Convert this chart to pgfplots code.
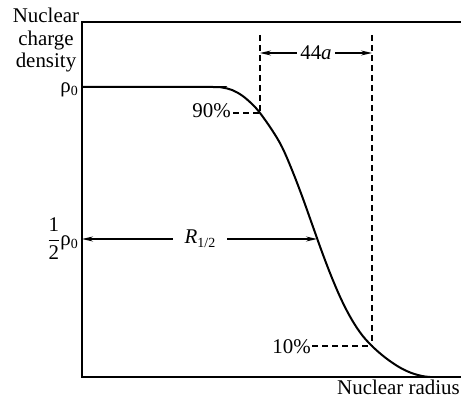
\documentclass[border=0pt]{standalone}
\usepackage{fontspec}
\setmainfont{Liberation Serif}
\usepackage{amsmath}
\usepackage{pgfplots}
\pgfplotsset{compat=1.18}
\usetikzlibrary{arrows.meta}
\begin{document}
\begin{tikzpicture}[font=\fontsize{21}{22}\selectfont, >={Stealth[length=11bp,width=5bp]}]
\begin{axis}[scale only axis, width=379bp, height=355bp,
  xmin=0, xmax=379, ymin=0, ymax=355, hide axis, clip=false]
\addplot[black, line width=2bp, smooth, tension=0.6] coordinates {
 (0,290) (130,290) (140,289.5) (150,287) (160,281.5) (170,273) (178,264)
 (190,247) (200,230) (210,207) (220,181) (230,153) (240,125) (250,99) (260,76)
 (270,57) (280,42) (290,31) (300,22) (310,14.5) (320,8.3) (330,3.8)
 (340,1) (348,0)};
\draw[line width=1.4bp] (rel axis cs:1,1) -- (rel axis cs:0,1) -- (rel axis cs:0,0) -- (rel axis cs:1,0);
% dashed guides
\draw[line width=1.1bp, dash pattern=on 6bp off 4bp] (axis cs:178,342) -- (axis cs:178,264);
\draw[line width=1.1bp, dash pattern=on 6bp off 4bp] (axis cs:290,342) -- (axis cs:290,31);
\draw[line width=1.1bp, dash pattern=on 6bp off 4bp] (axis cs:151,264) -- (axis cs:178,264);
\draw[line width=1.1bp, dash pattern=on 6bp off 4bp] (axis cs:230,31) -- (axis cs:290,31);
% 44a arrow
\draw[<->, line width=1.2bp] (axis cs:178,324) -- (axis cs:290,324);
\node[fill=white, inner xsep=3bp, inner ysep=1bp] at (axis cs:234,324) {44\textit{a}};
% R1/2 arrow
\draw[<->, line width=1.2bp] (axis cs:0,138) -- (axis cs:235,138);
\node[fill=white, inner xsep=12bp, inner ysep=1bp] at (axis cs:118,138) {\textit{R}\raisebox{-0.45ex}{\fontsize{14}{14}\selectfont 1/2}};
% labels
\node[anchor=base] at (axis cs:-36,354) {Nuclear};
\node[anchor=base] at (axis cs:-36,331) {charge};
\node[anchor=base] at (axis cs:-36,309) {density};
\node[anchor=base east, inner sep=0pt] at (axis cs:-4,284) {ρ\raisebox{-0.3ex}{\fontsize{14}{14}\selectfont 0}};
\node[anchor=east, inner sep=0pt] at (axis cs:-4,138) {$\dfrac{\text{1}}{\text{2}}$ρ\raisebox{-0.3ex}{\fontsize{14}{14}\selectfont 0}};
\node[anchor=base east, inner sep=0pt] at (axis cs:149,259) {90\%};
\node[anchor=base east, inner sep=0pt] at (axis cs:229,24) {10\%};
\node[anchor=base east, inner sep=0pt] at (axis cs:378,-17) {Nuclear radius};
\coordinate (BL) at (rel axis cs:0,0);
\coordinate (TR) at (rel axis cs:1,1);
\end{axis}
\pgfresetboundingbox
\path ([xshift=-82bp,yshift=-21bp]BL) rectangle ([yshift=22bp]TR);
\end{tikzpicture}
\end{document}
